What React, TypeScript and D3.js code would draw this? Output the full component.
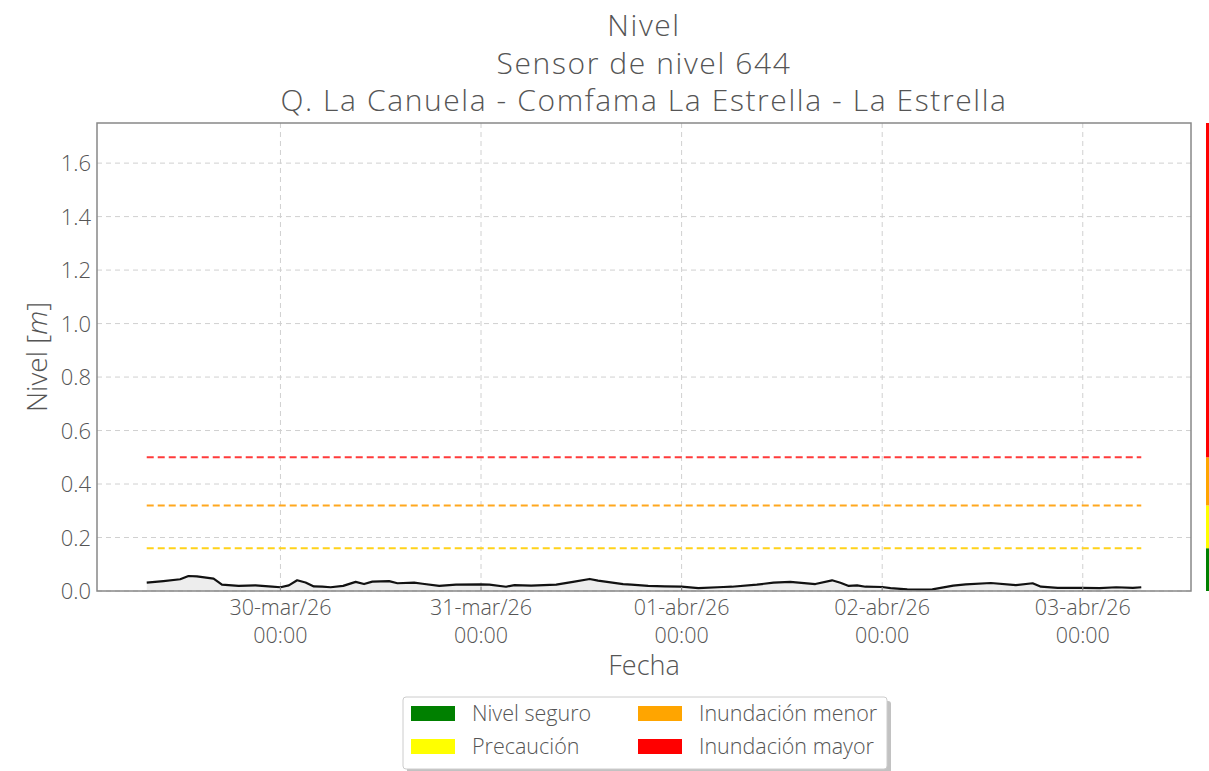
import React from 'react';
import * as d3 from 'd3';

// titles
const titleLines = ['Nivel', 'Sensor de nivel 644', 'Q. La Canuela - Comfama La Estrella - La Estrella'];

// series: hours after 29-mar-2026 00:00, level in metres
const hours = [8, 10, 12, 13, 14, 16, 17, 19, 21, 23, 24, 25, 26, 27, 28, 29, 30, 31.5, 33, 34, 35, 37, 38, 40, 41, 43, 45, 48, 49, 51, 52, 54, 57, 59, 61, 62, 65, 66, 68, 70, 72, 74, 77, 78, 81, 83, 85, 86, 88, 90, 91, 92, 93, 94, 96, 97, 99, 101, 102, 104.5, 106, 109, 112, 114, 115, 117, 120, 122, 124, 126, 127];
const levels = [0.031, 0.037, 0.044, 0.056, 0.055, 0.046, 0.024, 0.019, 0.021, 0.016, 0.014, 0.021, 0.040, 0.032, 0.017, 0.016, 0.014, 0.019, 0.034, 0.026, 0.035, 0.037, 0.029, 0.031, 0.027, 0.019, 0.024, 0.025, 0.024, 0.016, 0.022, 0.020, 0.024, 0.034, 0.045, 0.039, 0.026, 0.024, 0.019, 0.017, 0.016, 0.011, 0.015, 0.016, 0.024, 0.031, 0.034, 0.031, 0.026, 0.040, 0.031, 0.019, 0.021, 0.016, 0.015, 0.011, 0.006, 0.005, 0.006, 0.020, 0.025, 0.030, 0.022, 0.029, 0.016, 0.012, 0.012, 0.011, 0.014, 0.012, 0.014];

// alert thresholds
const thresholdNames = ['Nivel seguro', 'Precaución', 'Inundación menor', 'Inundación mayor'];
const thresholdValues = [0, 0.16, 0.32, 0.5];
const thresholdColors = ['#008000', '#ffff00', '#ffa500', '#ff0000'];
const dashColors = ['', '#ffd21a', '#ffa81f', '#ff3b3b'];

const yTicks = [0, 0.2, 0.4, 0.6, 0.8, 1.0, 1.2, 1.4, 1.6];
const xTickDays = [30, 31, 32, 33, 34]; // days of mar (32 = 01-abr ...)

const W = 1209;
const H = 771;
const M = { left: 97, right: 1191, top: 123, bottom: 591 };
const FONT = '"Open Sans", Lato, sans-serif';
const TXT = '#555';

const start = new Date(2026, 2, 29, 0, 0);
const monthNames = ['ene', 'feb', 'mar', 'abr', 'may', 'jun', 'jul', 'ago', 'sep', 'oct', 'nov', 'dic'];

export default function App() {
    const data = hours.map((h, i) => ({ t: d3.timeMinute.offset(start, Math.round(h * 60)), v: levels[i] }));
    const ext = d3.extent(data, d => d.t) as [Date, Date];
    const span = +ext[1] - +ext[0];
    const x = d3.scaleTime()
        .domain([new Date(+ext[0] - span * 0.05), new Date(+ext[1] + span * 0.05)])
        .range([M.left, M.right]);
    const y = d3.scaleLinear().domain([0, 1.75]).range([M.bottom, M.top]);

    const line = d3.line<{ t: Date; v: number }>().x(d => x(d.t)).y(d => y(d.v));
    const area = d3.area<{ t: Date; v: number }>().x(d => x(d.t)).y0(y(0)).y1(d => y(d.v));

    const xTicks = xTickDays.map(d => new Date(2026, 2, d, 0, 0));
    const fmt = (d: Date) => {
        const dd = String(d.getDate()).padStart(2, '0');
        return `${dd}-${monthNames[d.getMonth()]}/${String(d.getFullYear()).slice(2)}`;
    };

    const bands = thresholdValues.map((v, i) => ({
        lo: v,
        hi: i < thresholdValues.length - 1 ? thresholdValues[i + 1] : 1.75,
        color: thresholdColors[i],
    }));

    const legendX = 403;
    const legendY = 697;

    return (
        <svg width={W} height={H} style={{ position: 'absolute', left: 0, top: 0, background: '#fff' }}
            fontFamily={FONT}>
            {titleLines.map((t, i) => (
                <text key={t} x={(M.left + M.right) / 2} y={36 + i * 37.5} textAnchor="middle"
                    fontSize={30} letterSpacing={1.6} fill={TXT} fontWeight={300}>{t}</text>
            ))}

            {/* grid */}
            {yTicks.map(t => (
                <line key={'gy' + t} x1={M.left} x2={M.right} y1={y(t)} y2={y(t)}
                    stroke="#d0d0d0" strokeDasharray="5,4" strokeWidth={1} />
            ))}
            {xTicks.map(t => (
                <line key={'gx' + +t} x1={x(t)} x2={x(t)} y1={M.top} y2={M.bottom}
                    stroke="#d0d0d0" strokeDasharray="5,4" strokeWidth={1} />
            ))}

            {/* thresholds */}
            {thresholdValues.slice(1).map((v, i) => (
                <line key={'th' + v} x1={x(ext[0])} x2={x(ext[1])} y1={y(v)} y2={y(v)}
                    stroke={dashColors[i + 1]} strokeWidth={2} strokeDasharray="7,4" />
            ))}

            <path d={area(data) ?? ''} fill="#000" fillOpacity={0.07} />
            <path d={line(data) ?? ''} fill="none" stroke="#111" strokeWidth={2.2} strokeLinejoin="round" />

            {/* frame */}
            <rect x={M.left} y={M.top} width={M.right - M.left} height={M.bottom - M.top}
                fill="none" stroke="#888" strokeWidth={1.5} />
            {xTicks.map(t => (
                <line key={'tk' + +t} x1={x(t)} x2={x(t)} y1={M.bottom} y2={M.bottom - 4}
                    stroke="#888" strokeWidth={1.2} />
            ))}

            {/* y labels */}
            {yTicks.map(t => (
                <text key={'yl' + t} x={M.left - 6} y={y(t) + 8} textAnchor="end"
                    fontSize={22} fill={TXT} fontWeight={300}>{t.toFixed(1)}</text>
            ))}
            {xTicks.map(t => (
                <g key={'xl' + +t} fill={TXT} fontSize={21.5} fontWeight={300} textAnchor="middle">
                    <text x={x(t)} y={615}>{fmt(t)}</text>
                    <text x={x(t)} y={643}>00:00</text>
                </g>
            ))}
            <text x={(M.left + M.right) / 2} y={675} textAnchor="middle" fontSize={27}
                fill={TXT} fontWeight={300}>Fecha</text>
            <text transform={`translate(47,${(M.top + M.bottom) / 2}) rotate(-90)`} textAnchor="middle"
                fontSize={28} fill={TXT} fontWeight={300}>
                Nivel [<tspan fontStyle="italic">m</tspan>]
            </text>

            {/* colour bar on the right */}
            {bands.map(b => (
                <rect key={'cb' + b.lo} x={1206} y={y(b.hi)} width={3} height={y(b.lo) - y(b.hi)} fill={b.color} />
            ))}

            {/* legend */}
            <rect x={legendX + 4} y={legendY + 4} width={484} height={72} rx={3} fill="#999" opacity={0.6} />
            <rect x={legendX} y={legendY} width={484} height={72} rx={3} fill="#fff" stroke="#ccc" strokeWidth={1} />
            {thresholdNames.map((n, i) => {
                const col = i < 2 ? 0 : 1;
                const row = i % 2;
                const lx = legendX + 8 + col * 227;
                const ly = legendY + 9 + row * 33;
                return (
                    <g key={n}>
                        <rect x={lx} y={ly} width={44} height={15} fill={thresholdColors[i]} />
                        <text x={lx + 61} y={ly + 15} fontSize={21.5} fill={TXT} fontWeight={300}>{n}</text>
                    </g>
                );
            })}
        </svg>
    );
}
